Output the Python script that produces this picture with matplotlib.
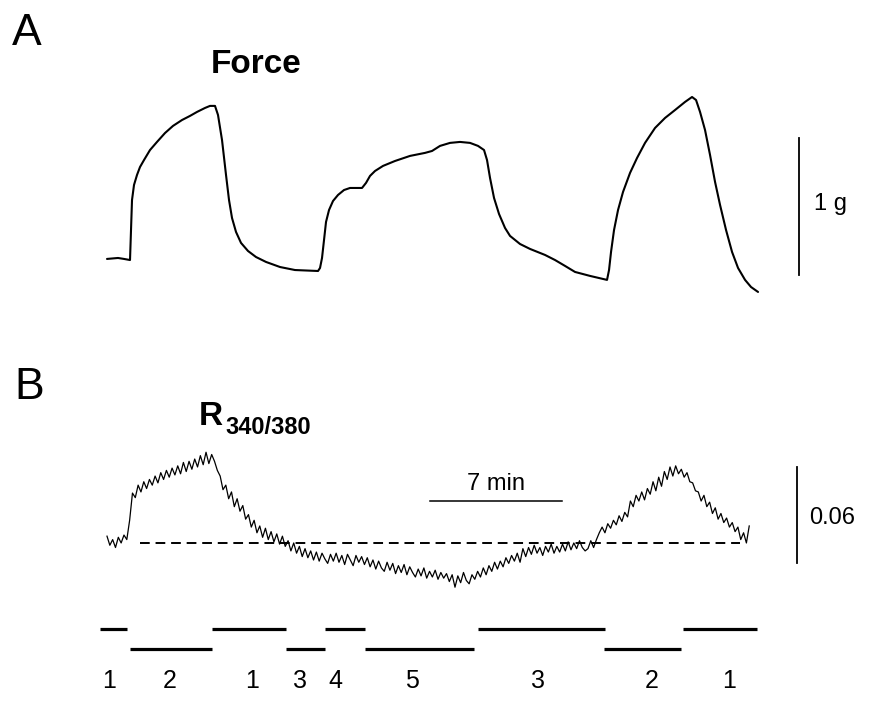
import matplotlib
matplotlib.use("Agg")
import matplotlib.pyplot as plt
import numpy as np

plt.rcParams["font.family"] = ["Liberation Sans", "DejaVu Sans"]

# Force trace, time in min, force in g (relative to resting level)
force_time = [0, 0.583, 0.901, 1.220, 1.326, 1.432, 1.591, 1.750, 1.962, 2.280,
              2.651, 3.075, 3.499, 3.977, 4.401, 4.772, 5.196, 5.461, 5.726, 5.885,
              6.098, 6.310, 6.469, 6.628, 6.840, 7.105, 7.476, 7.900, 8.431, 9.173,
              9.968, 11.188,
              11.294, 11.400, 11.506, 11.612, 11.771, 11.983, 12.248, 12.566, 12.884,
              13.521, 13.733, 13.945, 14.210, 14.634, 15.270, 16.066, 16.861, 17.232,
              17.656, 18.187, 18.717, 19.247, 19.671, 19.989, 20.148, 20.308, 20.520,
              20.785, 21.103, 21.368, 21.898, 22.428, 23.224, 23.754, 24.284, 24.814,
              25.610, 26.511,
              26.617, 26.723, 26.882, 27.094, 27.359, 27.731, 28.102, 28.526, 29.056,
              29.586, 30.117, 30.647, 31.018, 31.230, 31.442, 31.707, 31.972, 32.238,
              32.503, 32.821, 33.139, 33.457, 33.828, 34.146, 34.517]
force_g = [0.117, 0.124, 0.117, 0.109, 0.547, 0.657, 0.730, 0.788, 0.839, 0.912,
           0.971, 1.036, 1.088, 1.131, 1.161, 1.190, 1.219, 1.234, 1.234, 1.168,
           0.985, 0.730, 0.547, 0.416, 0.314, 0.234, 0.175, 0.131, 0.095, 0.058,
           0.036, 0.029,
           0.051, 0.124, 0.255, 0.387, 0.474, 0.540, 0.584, 0.620, 0.635,
           0.635, 0.672, 0.723, 0.759, 0.796, 0.832, 0.869, 0.891, 0.905,
           0.942, 0.964, 0.971, 0.964, 0.942, 0.912, 0.839, 0.708, 0.562,
           0.445, 0.343, 0.285, 0.226, 0.190, 0.146, 0.109, 0.066, 0.022,
           -0.007, -0.036,
           0.036, 0.168, 0.328, 0.474, 0.606, 0.745, 0.854, 0.964, 1.073,
           1.146, 1.204, 1.263, 1.299, 1.277, 1.190, 1.058, 0.876, 0.679,
           0.511, 0.328, 0.168, 0.051, -0.036, -0.088, -0.124]

# Fura-2 ratio trace, sampled every 0.15 min, raw recorder units
ratio_dt = 0.15
ratio_raw = [
    6, -2, 3, -4, 5, 0, 7, 3, 20, 44,
    40, 51, 45, 54, 48, 56, 51, 59, 53, 62,
    56, 64, 58, 66, 60, 68, 61, 71, 63, 72,
    65, 74, 67, 77, 69, 80, 70, 78, 72, 64,
    59, 47, 51, 39, 45, 32, 39, 28, 33, 21,
    25, 14, 20, 9, 15, 5, 13, 3, 10, 1,
    8, -1, 6, -3, 2, -7, 0, -9, -3, -12,
    -5, -13, -7, -15, -8, -16, -9, -14, -18, -10,
    -16, -9, -17, -11, -19, -10, -15, -20, -11, -17,
    -12, -19, -13, -21, -15, -23, -16, -22, -25, -17,
    -24, -18, -27, -20, -26, -19, -28, -21, -26, -30,
    -23, -29, -22, -31, -25, -30, -24, -32, -26, -31,
    -27, -34, -28, -39, -29, -35, -26, -33, -36, -28,
    -32, -25, -30, -22, -28, -20, -25, -17, -23, -16,
    -21, -13, -18, -11, -16, -9, -17, -5, -12, -4,
    -10, -2, -9, -4, -11, -3, -8, -1, -9, -3,
    -8, -1, -7, 1, -6, 0, -5, 2, -4, -7,
    -5, 2, -4, 3, 9, 14, 9, 17, 13, 20,
    16, 24, 19, 27, 23, 37, 32, 42, 37, 45,
    38, 48, 43, 54, 46, 58, 50, 63, 56, 67,
    59, 68, 61, 65, 58, 62, 54, 53, 46, 45,
    37, 42, 32, 36, 26, 31, 21, 26, 18, 22,
    14, 18, 10, 14, 3, 9, 0, 15,
]
raw_to_ratio = 7.09e-4  # calibration: recorder units -> R340/380 change
baseline_span = (1.75, 33.56)

# solution protocol: (start, end, level, label)
sol_start = [-0.37, 1.22, 5.57, 9.49, 11.56, 13.68, 19.67, 26.35, 30.54]
sol_end = [1.06, 5.57, 9.49, 11.56, 13.68, 19.46, 26.40, 30.43, 34.46]
sol_level = [1, 0, 1, 0, 1, 0, 1, 0, 1]
sol_label = ["1", "2", "1", "3", "4", "5", "3", "2", "1"]
sol_label_t = [0.11, 3.34, 7.69, 10.23, 12.09, 16.17, 22.85, 28.90, 32.98]

W, H = 869, 702
fig = plt.figure(figsize=(W / 100, H / 100), dpi=100)
xlim = (-5.673, 40.40)

axA = fig.add_axes([0, 0, 1, 1])
axB = fig.add_axes([0, 0, 1, 1])
axP = fig.add_axes([0, 0, 1, 1])
for ax in (axA, axB, axP):
    ax.set_xlim(*xlim)
    ax.axis("off")
    ax.patch.set_alpha(0)
axA.set_ylim(-3.117, 2.007)
axB.set_ylim(-0.0994, 0.3394)
axP.set_ylim(-2.65, 32.45)

# panel A
axA.plot(force_time, force_g, color="black", lw=1.5,
         solid_joinstyle="round", solid_capstyle="round")
axA.plot([36.69, 36.69], [0, 1], color="black", lw=1.3)

# panel B
ratio_t = np.arange(len(ratio_raw)) * ratio_dt
ratio_change = np.array(ratio_raw) * raw_to_ratio
axB.plot(ratio_t, ratio_change, color="black", lw=0.9)
axB.plot(baseline_span, [0, 0], color="black", lw=1.4, dashes=(5, 3))
axB.plot([36.59, 36.59], [-0.0125, 0.0475], color="black", lw=1.3)
axB.plot([17.13, 24.13], [0.02625, 0.02625], color="black", lw=1.1)

for s, e, lev, lab, lt in zip(sol_start, sol_end, sol_level, sol_label, sol_label_t):
    axP.plot([s, e], [lev, lev], color="black", lw=2.3, solid_capstyle="butt")
    axP.text(lt, -1.95, lab, ha="center", va="baseline", fontsize=18)


def fpos(x, y):
    return x / W, 1 - y / H


fig.text(*fpos(12, 45), "A", fontsize=32, va="baseline")
fig.text(*fpos(211, 73), "Force", fontsize=24, fontweight="bold", va="baseline")
fig.text(*fpos(14, 399), "B", fontsize=32, va="baseline")
fig.text(*fpos(199, 425), "R", fontsize=24, fontweight="bold", va="baseline")
fig.text(*fpos(225, 434), "340/380", fontsize=17, fontweight="bold", va="baseline")
fig.text(*fpos(814, 210), "1 g", fontsize=17, va="baseline")
fig.text(*fpos(496, 490), "7 min", fontsize=17, va="baseline", ha="center")
fig.text(*fpos(809, 524), "0.06", fontsize=17, va="baseline")

fig.savefig("out.png", dpi=100, facecolor="white")
